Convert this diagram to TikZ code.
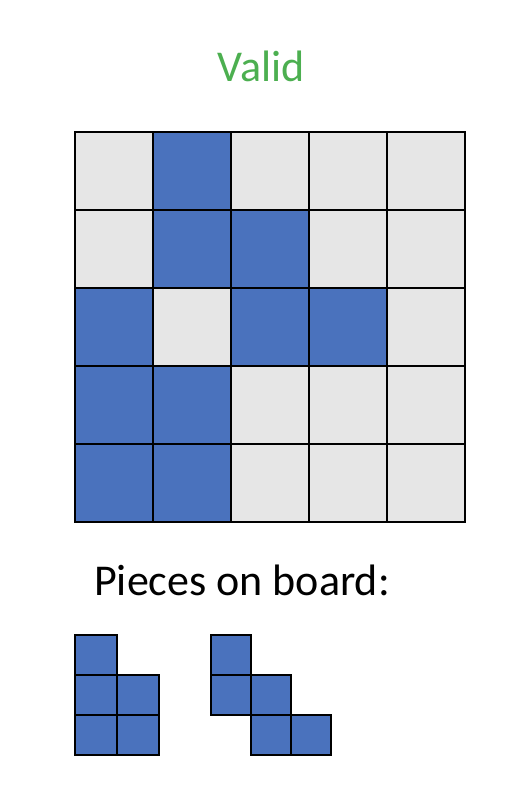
\documentclass[tikz,border=0pt]{standalone}
\usepackage{fontspec}
\setmainfont{Carlito}
\definecolor{pieceblue}{HTML}{4A72BD}
\definecolor{cellgray}{HTML}{E6E6E6}
\definecolor{validgreen}{HTML}{4CAF50}
\begin{document}
\begin{tikzpicture}[x=1pt,y=-1pt,
  cellbox/.style={draw=black,line width=2pt,fill=cellgray},
  bluecell/.style={draw=black,line width=2pt,fill=pieceblue},
  title/.style={inner sep=0pt,anchor=base,font=\fontsize{44}{48}\selectfont}]
\useasboundingbox (0,0) rectangle (516,812);
\node[title,text=validgreen] (valid) at (261,81.5) {Valid};
% board
\foreach \r/\c/\s in {0/0/cellbox,0/1/bluecell,0/2/cellbox,0/3/cellbox,0/4/cellbox,
  1/0/cellbox,1/1/bluecell,1/2/bluecell,1/3/cellbox,1/4/cellbox,
  2/0/bluecell,2/1/cellbox,2/2/bluecell,2/3/bluecell,2/4/cellbox,
  3/0/bluecell,3/1/bluecell,3/2/cellbox,3/3/cellbox,3/4/cellbox,
  4/0/bluecell,4/1/bluecell,4/2/cellbox,4/3/cellbox,4/4/cellbox}
  \draw[\s] ({75+78*\c},{132+78*\r}) rectangle ++(78,78);
\node[title,anchor=base west] (pieces) at (94,595) {Pieces on board:};
% piece 1
\foreach \x/\y in {75/634.5, 75/674.5, 117/674.5, 75/714.5, 117/714.5}
  \draw[bluecell] (\x,\y) rectangle ++(42,40.5);
% piece 2
\foreach \x/\y in {211/634.5, 211/674.5, 251/674.5, 251/714.5, 291/714.5}
  \draw[bluecell] (\x,\y) rectangle ++(40,40.5);
\end{tikzpicture}
\end{document}
